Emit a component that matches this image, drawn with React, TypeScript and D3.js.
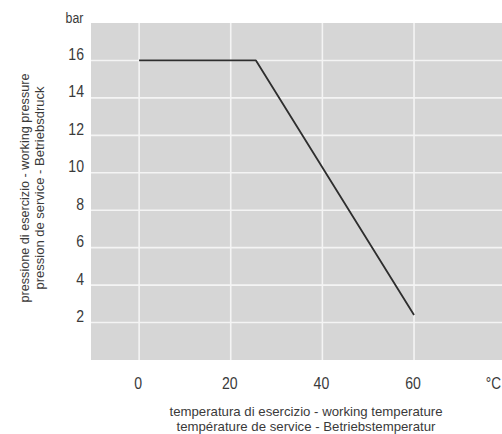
import React, { useEffect, useRef } from "react";
import * as d3 from "d3";

const temperatures = [0, 25.5, 60];
const pressures = [16, 16, 2.4];
const xTicks = [0, 20, 40, 60];
const yTicks = [2, 4, 6, 8, 10, 12, 14, 16];
const xTitle = ["temperatura di esercizio - working temperature", "température de service - Betriebstemperatur"];
const yTitle = ["pressione di esercizio - working pressure", "pression de service - Betriebsdruck"];
const yUnit = "bar";
const xUnit = "°C";

const W = 502, H = 434;
const FONT = "'Liberation Sans', Arial, sans-serif";
const TXT = "#3a3a3a";

export default function App() {
  const ref = useRef<SVGSVGElement>(null);
  useEffect(() => {
    const svg = d3.select(ref.current);
    svg.selectAll("*").remove();
    const x = d3.scaleLinear().domain([-10.5, 79.2]).range([91, 502]);
    const y = d3.scaleLinear().domain([0, 18]).range([360, 23]);

    svg.append("rect").attr("x", x.range()[0]).attr("y", y(18))
      .attr("width", x.range()[1] - x.range()[0]).attr("height", y(0) - y(18))
      .attr("fill", "#d6d6d6");

    svg.append("g").selectAll("line").data(xTicks).join("line")
      .attr("x1", d => x(d)).attr("x2", d => x(d)).attr("y1", y(18)).attr("y2", y(0))
      .attr("stroke", "#f4f4f4").attr("stroke-width", 1.6);
    svg.append("g").selectAll("line").data(yTicks).join("line")
      .attr("x1", x.range()[0]).attr("x2", x.range()[1]).attr("y1", d => y(d)).attr("y2", d => y(d))
      .attr("stroke", "#f4f4f4").attr("stroke-width", 1.6);

    const line = d3.line<number>().x((_, i) => x(temperatures[i])).y(d => y(d));
    svg.append("path").datum(pressures).attr("d", line).attr("fill", "none")
      .attr("stroke", "#2e2e2e").attr("stroke-width", 1.8).attr("stroke-linejoin", "round");

    const cond = (sel: any, px: (d: any) => number, py: (d: any) => number, sx = 0.88) =>
      sel.attr("transform", (d: any) => `translate(${px(d)},${py(d)}) scale(${sx},1)`);

    cond(svg.append("g").selectAll("text").data(yTicks).join("text")
      .attr("text-anchor", "end").attr("font-size", 16).attr("font-family", FONT).attr("fill", TXT)
      .text(d => String(d)), () => 84, d => y(d) - 0.5);

    cond(svg.append("g").selectAll("text").data(xTicks).join("text")
      .attr("text-anchor", "middle").attr("font-size", 16).attr("font-family", FONT).attr("fill", TXT)
      .text(d => String(d)), d => x(d) - 1, () => 389);

    svg.append("text").attr("text-anchor", "middle").attr("font-size", 14.5).attr("font-family", FONT)
      .attr("fill", TXT).attr("transform", "translate(74.5,23) scale(0.85,1)").text(yUnit);
    svg.append("text").attr("text-anchor", "end").attr("font-size", 16).attr("font-family", FONT)
      .attr("fill", TXT).attr("transform", "translate(501,389) scale(0.85,1)").text(xUnit);

    const xLens = [273, 259];
    xTitle.forEach((t, i) => {
      svg.append("text").attr("x", 306).attr("y", 416 + i * 15).attr("text-anchor", "middle")
        .attr("font-size", 13.5).attr("font-family", FONT).attr("fill", TXT)
        .attr("textLength", xLens[i]).attr("lengthAdjust", "spacingAndGlyphs").text(t);
    });
    const yLens = [229, 203];
    const yPos = [28.5, 43.5];
    yTitle.forEach((t, i) => {
      svg.append("text").attr("transform", `translate(${yPos[i]},188) rotate(-90)`)
        .attr("text-anchor", "middle").attr("font-size", 13.5).attr("font-family", FONT).attr("fill", TXT)
        .attr("textLength", yLens[i]).attr("lengthAdjust", "spacingAndGlyphs").text(t);
    });
  }, []);
  return (
    <svg ref={ref} width={W} height={H} style={{ position: "absolute", left: 0, top: 0, background: "#fff" }} />
  );
}
